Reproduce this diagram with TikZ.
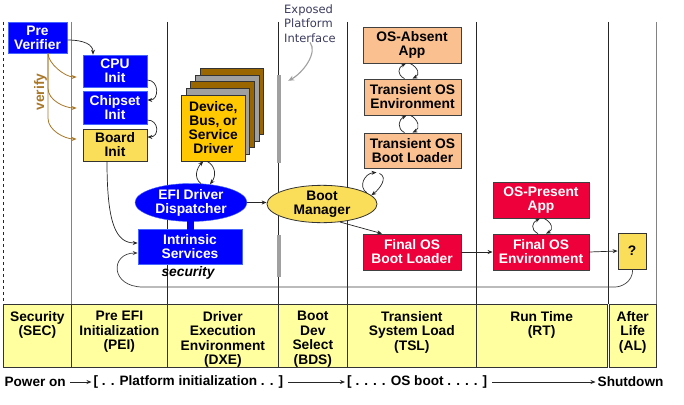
\documentclass[tikz,border=0pt]{standalone}
\usepackage{fontspec}
\setmainfont{Liberation Sans}
\newfontfamily\handfont{DejaVu Sans}
\usetikzlibrary{shapes.geometric,arrows.meta}
\definecolor{efiblue}{RGB}{0,0,255}
\definecolor{blueedge}{RGB}{70,100,255}
\definecolor{osred}{RGB}{238,0,58}
\definecolor{peach}{RGB}{250,192,144}
\definecolor{boxyellow}{RGB}{250,222,90}
\definecolor{drvgold}{RGB}{255,200,0}
\definecolor{drvbrown}{RGB}{153,102,0}
\definecolor{drvgray}{RGB}{160,160,160}
\definecolor{tabyellow}{RGB}{255,255,160}
\definecolor{verifybrown}{RGB}{168,120,40}
\definecolor{handgray}{RGB}{60,60,95}
\definecolor{bargray}{RGB}{160,160,160}
\definecolor{linegray}{RGB}{130,130,130}
\begin{document}
\begin{tikzpicture}[x=1pt,y=-1pt,
  txt/.style={font=\fontsize{13.8}{14}\selectfont\bfseries, align=center, inner sep=0pt},
  bluebox/.style={txt, rectangle, draw=blueedge, fill=efiblue, text=white, line width=0.6pt},
  redbox/.style={txt, rectangle, draw=black!75, fill=osred, text=white, line width=0.8pt},
  peachbox/.style={txt, rectangle, draw=black!75, fill=peach, line width=0.8pt},
  yelbox/.style={txt, rectangle, draw=black!80, fill=boxyellow, line width=0.8pt},
  layer/.style={rectangle, draw=black!80, line width=0.6pt, minimum width=63.5pt, minimum height=66pt, inner sep=0pt},
  cell/.style={rectangle, draw=black!80, fill=tabyellow, line width=0.7pt, minimum height=63pt, inner sep=0pt, anchor=north west},
  celltext/.style={txt, anchor=north, font=\fontsize{13.8}{14.5}\selectfont\bfseries},
  vline/.style={line width=0.7pt, draw=black!85},
  arr/.style={-{Stealth[length=5pt,width=4pt]}, line width=0.7pt, draw=black!85},
  verarr/.style={-{Stealth[length=5pt,width=4pt]}, line width=0.8pt, draw=verifybrown},
  bar/.style={rectangle, fill=bargray, inner sep=0pt, minimum width=4pt},
]
\useasboundingbox (0,0) rectangle (684,404);
\fill[white] (0,0) rectangle (684,404);

% phase separators
\draw[vline, dashed, line width=0.6pt] (3,22) -- (3,304);
\draw[vline, draw=linegray] (71.5,22) -- (71.5,304);
\draw[vline] (167,22) -- (167,304);
\draw[vline] (278.5,22) -- (278.5,304);
\draw[vline] (347,22) -- (347,304);
\draw[vline] (476,22) -- (476,304);
\draw[vline] (608,22) -- (608,304);
\draw[vline, draw=linegray] (656,22) -- (656,304);

% exposed platform interface bars
\node[bar, minimum height=88pt] (bar1) at (279,119) {};
\node[bar, minimum height=42pt] (bar2) at (279,256) {};
\node[font=\handfont\fontsize{11.5}{14.3}\selectfont, text=handgray, align=left, anchor=north west, inner sep=0pt] (epi) at (284,4.5) {Exposed\\Platform\\Interface};
\draw[-{Stealth[length=6pt,width=5pt]}, draw=bargray, line width=1.1pt] ([xshift=26pt]epi.south west) .. controls +(8,10) and +(15,-8) .. ([xshift=7pt,yshift=-6pt]bar1.north east);

% SEC / PEI
\node[bluebox, minimum width=59pt, minimum height=31pt] (pv) at (37.5,37.5) {Pre\\Verifier};
\node[bluebox, minimum width=64pt, minimum height=32pt] (cpu) at (115,71) {CPU\\Init};
\node[bluebox, minimum width=64pt, minimum height=33pt] (chip) at (115,107.5) {Chipset\\Init};
\node[yelbox, minimum width=64pt, minimum height=32pt] (board) at (115,145) {Board\\Init};
\node[txt, rotate=90, text=verifybrown] (ver) at (40.5,92) {verify};

\draw[arr] ([yshift=-2.5pt]pv.east) .. controls (85,40) and (93,45) .. ([xshift=-22pt]cpu.north);
\draw[arr] ([yshift=-9pt]cpu.east) .. controls +(12,0) and +(12,0) .. ([yshift=7.5pt]chip.east);
\draw[arr] ([yshift=-12.5pt]chip.east) .. controls +(12,0) and +(12,0) .. ([yshift=8pt]board.east);

\draw[verarr] ([xshift=10.5pt]pv.south) .. controls +(0,10) and +(-12,0) .. ([xshift=-6pt,yshift=-6pt]cpu.west);
\draw[verarr] ([xshift=10.5pt]pv.south) -- +(0,35) .. controls +(0,12) and +(-12,0) .. ([xshift=-6pt,yshift=-0.5pt]chip.west);
\draw[verarr] ([xshift=10.5pt]pv.south) -- +(0,65) .. controls +(0,12) and +(-12,0) .. ([xshift=-6pt,yshift=6pt]board.west);

% DXE
\node[layer, fill=drvbrown] (l4) at (231.65,101.2) {};
\node[layer, fill=drvgray] (l3) at (227.05,107.9) {};
\node[layer, fill=drvbrown] (l2) at (222.45,114.6) {};
\node[layer, fill=drvgray] (l1) at (217.85,121.3) {};
\node[layer, txt, fill=drvgold, draw=black!80, line width=0.8pt] (drv) at (213.25,128) {Device,\\Bus, or\\Service\\Driver};

\node[ellipse, txt, fill=efiblue, draw=blueedge, text=white, minimum width=112pt, minimum height=35pt] (disp) at (191,202.5) {EFI Driver\\Dispatcher};
\node[bluebox, minimum width=104pt, minimum height=35pt] (intr) at (190,246.5) {Intrinsic\\Services};
\fill[efiblue] ([xshift=-4pt,yshift=1pt]disp.south) rectangle ([xshift=4pt,yshift=-1pt]intr.north);
\node[txt, font=\fontsize{13.8}{14}\selectfont\bfseries\itshape, anchor=north] (sec) at (188,266.5) {security};

\draw[arr] ([xshift=10pt,yshift=-0.3pt]disp.north) .. controls +(-8,-6) and +(-6,6) .. ([xshift=-10pt]drv.south);
\draw[arr] ([xshift=-6pt]drv.south) .. controls +(9,5) and +(6,-8) .. ([xshift=19pt,yshift=-1pt]disp.north);

\draw[arr] (board.south -| 107,0) .. controls +(0,62) and +(-22,0) .. ([yshift=3.5pt]intr.west);

% BDS
\node[ellipse, txt, fill=boxyellow, draw=black!80, line width=0.8pt, minimum width=110pt, minimum height=32pt] (bm) at (322,204) {Boot\\Manager};
\draw[arr] (disp.east) -- (disp.east -| bm.west);

% TSL
\node[peachbox, minimum width=98pt, minimum height=36pt] (osa) at (412,45) {OS-Absent\\App};
\node[peachbox, minimum width=97pt, minimum height=36pt] (tenv) at (412.5,97) {Transient OS\\Environment};
\node[peachbox, minimum width=97pt, minimum height=35pt] (tbl) at (412.5,150.5) {Transient OS\\Boot Loader};
\node[redbox, minimum width=98pt, minimum height=36pt] (fbl) at (412,252) {Final OS\\Boot Loader};

\draw[arr] ([xshift=-8pt]tenv.north) .. controls +(-8,-4) and +(-8,4) .. ([xshift=-6pt]osa.south);
\draw[arr] ([xshift=-2pt]osa.south) .. controls +(8,4) and +(8,-4) .. ([xshift=0pt]tenv.north);
\draw[arr] ([xshift=-8pt]tbl.north) .. controls +(-8,-4) and +(-8,4) .. ([xshift=-6pt]tenv.south);
\draw[arr] ([xshift=-2pt]tenv.south) .. controls +(8,4) and +(8,-4) .. ([xshift=0pt]tbl.north);

\draw[arr] (bm.14) .. controls +(-9,-6) and +(-12,1) .. ([xshift=-36pt,yshift=-4pt]tbl.south);
\draw[arr] ([xshift=-33pt,yshift=-5pt]tbl.south) .. controls +(9,4) and +(8,-6) .. (bm.10);
\draw[arr] (bm.-45) -- ([xshift=-30pt]fbl.north);

% RT
\node[redbox, minimum width=96pt, minimum height=36pt] (ospa) at (541,200) {OS-Present\\App};
\node[redbox, minimum width=96pt, minimum height=36pt] (fenv) at (541,252) {Final OS\\Environment};
\draw[arr] ([xshift=-3pt]fenv.north) .. controls +(-8,-4) and +(-8,4) .. ([xshift=-1pt]ospa.south);
\draw[arr] ([xshift=3pt]ospa.south) .. controls +(8,4) and +(8,-4) .. ([xshift=5pt]fenv.north);
\draw[arr] (fbl.east) -- (fenv.west);

% AL
\node[yelbox, minimum width=28pt, minimum height=36pt] (q) at (632,251) {?};
\draw[arr] (fenv.east) -- (q.west);

% security loop
\draw[arr, draw=black!75] ([xshift=0.7pt]q.south) .. controls +(0,13) and +(6,0) .. (615,287) -- (143,287) .. controls (110,287) and (110,253) .. ([yshift=-6.5pt]intr.west);

% phase table
\node[cell, minimum width=68pt] (csec) at (3,304) {};
\node[cell, minimum width=96pt] (cpei) at (71,304) {};
\node[cell, minimum width=111pt] (cdxe) at (167,304) {};
\node[cell, minimum width=69pt] (cbds) at (278,304) {};
\node[cell, minimum width=129pt] (ctsl) at (347,304) {};
\node[cell, minimum width=130.5pt] (crt) at (476,304) {};
\node[cell, minimum width=47.2pt] (cal) at (608.8,304) {};

\node[celltext] at ([yshift=-7pt]csec.north) {Security\\(SEC)};
\node[celltext] at ([yshift=-7pt]cpei.north) {Pre EFI\\Initialization\\(PEI)};
\node[celltext] at ([yshift=-7pt]cdxe.north) {Driver\\Execution\\Environment\\(DXE)};
\node[celltext] at ([yshift=-7pt]cbds.north) {Boot\\Dev\\Select\\(BDS)};
\node[celltext] at ([yshift=-7pt]ctsl.north) {Transient\\System Load\\(TSL)};
\node[celltext] at ([yshift=-7pt]crt.north) {Run Time\\(RT)};
\node[celltext] at ([yshift=-7pt]cal.north) {After\\Life\\(AL)};

% bottom timeline
\node[txt, font=\fontsize{13.6}{14}\selectfont\bfseries, anchor=west] (pwr) at (4.4,382) {Power on};
\node[txt, font=\fontsize{13.6}{14}\selectfont\bfseries, anchor=west] (plat) at (93.5,382) {[ . . Platform initialization . . ]};
\node[txt, font=\fontsize{13.6}{14}\selectfont\bfseries, anchor=west] (osb) at (347,382) {[ . . . . OS boot . . . . ]};
\node[txt, font=\fontsize{13.6}{14}\selectfont\bfseries, anchor=west] (shd) at (597.5,382) {Shutdown};
\draw[arr] ([xshift=4pt]pwr.east) -- ([xshift=-2pt]plat.west);
\draw[arr] ([xshift=5pt]plat.east) -- ([xshift=-2pt]osb.west);
\draw[arr] ([xshift=5pt]osb.east) -- ([xshift=-2pt]shd.west);
\end{tikzpicture}
\end{document}
